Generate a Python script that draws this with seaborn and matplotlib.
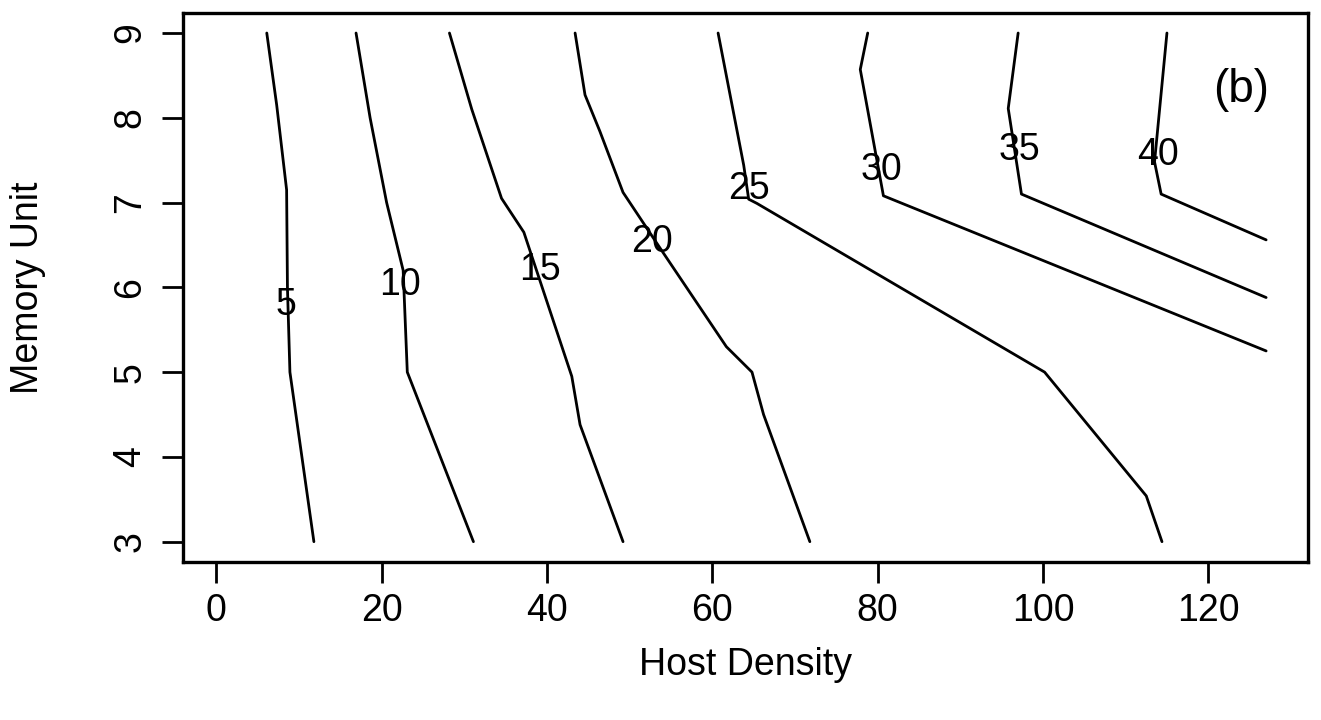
import matplotlib
matplotlib.use("Agg")
import matplotlib.pyplot as plt
import seaborn as sns
import pandas as pd

# contour polylines (host density, memory unit)
levels = [5, 10, 15, 20, 25, 30, 35, 40]

c5_x = [6.1, 7.3, 8.5, 8.6, 8.9, 11.8]
c5_y = [9.0, 8.15, 7.15, 6.0, 5.0, 3.0]
c10_x = [16.9, 18.6, 20.6, 22.6, 23.1, 31.1]
c10_y = [9.0, 8.0, 7.0, 6.2, 5.0, 3.0]
c15_x = [28.2, 30.9, 34.5, 37.2, 43.0, 44.0, 49.2]
c15_y = [9.0, 8.1, 7.05, 6.65, 4.95, 4.38, 3.0]
c20_x = [43.4, 44.6, 46.4, 49.2, 53.7, 61.7, 64.8, 66.2, 71.8]
c20_y = [9.0, 8.27, 7.84, 7.12, 6.46, 5.3, 5.0, 4.5, 3.0]
c25_x = [60.7, 63.8, 64.4, 65.4, 100.2, 112.5, 114.4]
c25_y = [9.0, 7.44, 7.04, 6.99, 5.0, 3.54, 3.0]
c30_x = [78.8, 77.9, 80.7, 127.0]
c30_y = [9.0, 8.57, 7.08, 5.25]
c35_x = [97.0, 95.8, 97.4, 127.0]
c35_y = [9.0, 8.11, 7.1, 5.88]
c40_x = [115.0, 113.5, 114.3, 127.0]
c40_y = [9.0, 7.48, 7.1, 6.56]

# where the level numbers are printed
label_x = [8.4, 22.2, 39.2, 52.7, 64.4, 80.5, 97.2, 113.9]
label_y = [5.79, 6.03, 6.2, 6.54, 7.16, 7.38, 7.62, 7.56]

x_ticks = [0, 20, 40, 60, 80, 100, 120]
y_ticks = [3, 4, 5, 6, 7, 8, 9]

xs = [c5_x, c10_x, c15_x, c20_x, c25_x, c30_x, c35_x, c40_x]
ys = [c5_y, c10_y, c15_y, c20_y, c25_y, c30_y, c35_y, c40_y]

rows = []
for lev, cx, cy in zip(levels, xs, ys):
    for i, (a, b) in enumerate(zip(cx, cy)):
        rows.append({"level": lev, "order": i, "host": a, "memory": b})
df = pd.DataFrame(rows)

sns.set_style("ticks")
plt.rcParams["font.family"] = ["Liberation Sans", "DejaVu Sans"]

fig = plt.figure(figsize=(13.21, 7.2), dpi=100)
ax = fig.add_axes([0.1385, 0.2194, 0.8515, 0.763])

sns.lineplot(data=df, x="host", y="memory", units="level", estimator=None,
             sort=False, color="black", linewidth=2.0, ax=ax, legend=False)

for lev, lx, ly in zip(levels, label_x, label_y):
    ax.text(lx, ly, str(lev), ha="center", va="center", fontsize=27, color="black")

ax.text(124.0, 8.33, "(b)", ha="center", va="center", fontsize=33, color="black")

ax.set_xlim(-4.04, 132.04)
ax.set_ylim(2.76, 9.24)
ax.set_xticks(x_ticks)
ax.set_yticks(y_ticks)
ax.set_yticklabels([str(v) for v in y_ticks], rotation=90, va="center")
ax.tick_params(axis="x", direction="out", length=15, width=2.0,
               labelsize=27, pad=7, colors="black")
ax.tick_params(axis="y", direction="out", length=15, width=2.0,
               labelsize=27, pad=10, colors="black")
for side in ["top", "right", "left", "bottom"]:
    ax.spines[side].set_visible(True)
    ax.spines[side].set_linewidth(2.4)
    ax.spines[side].set_color("black")

ax.set_xlabel("Host Density", fontsize=27, labelpad=13, color="black")
ax.set_ylabel("Memory Unit", fontsize=27, labelpad=48, color="black")

fig.savefig("out.png", dpi=100, facecolor="white")
